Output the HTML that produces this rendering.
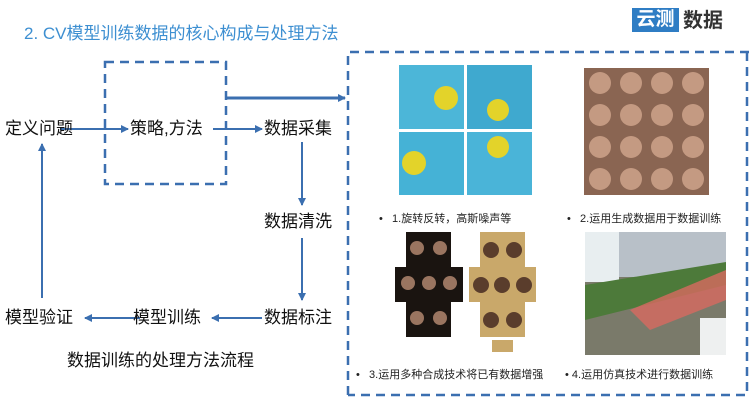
<!DOCTYPE html>
<html><head><meta charset="utf-8"><style>
body{margin:0;width:750px;height:415px;background:#fff;position:relative;overflow:hidden;font-family:"Liberation Sans","Noto Sans CJK SC",sans-serif;}
.t{position:absolute;white-space:nowrap;color:#111;font-size:17px;line-height:20px;}
.s{position:absolute;white-space:nowrap;color:#222;font-size:11px;line-height:14px;}
.b{position:absolute;}
</style></head><body>
<div class="t" style="left:24px;top:24px;color:#3d8fd1;font-size:17px;">2. CV模型训练数据的核心构成与处理方法</div>
<div class="b" style="left:632px;top:8px;width:47px;height:24px;background:#2f7dc4;color:#fff;font-size:19px;line-height:24px;text-align:center;font-weight:bold;">云测</div>
<div class="t" style="left:683px;top:9px;font-size:20px;line-height:24px;color:#333;font-weight:bold;">数据</div>

<svg class="b" style="left:0;top:0" width="750" height="415">
<defs><marker id="a" markerWidth="8" markerHeight="8" refX="7" refY="4" orient="auto" markerUnits="userSpaceOnUse"><path d="M0,0 L8,4 L0,8 Z" fill="#3b6fb0"/></marker></defs>
<g stroke="#3b6fb0" stroke-width="2.5" fill="none" stroke-dasharray="9,6">
<rect x="105" y="62" width="121" height="122"/>
<path d="M348,395 L348,52 L750,52 M747,52 L747,395 L348,395"/>
</g>
<g stroke="#3b6fb0" stroke-width="2" fill="none">
<line x1="60" y1="129" x2="128" y2="129" marker-end="url(#a)"/>
<line x1="213" y1="129" x2="262" y2="129" marker-end="url(#a)"/>
<line x1="226" y1="98" x2="345" y2="98" stroke-width="3" marker-end="url(#a)"/>
<line x1="302" y1="142" x2="302" y2="205" marker-end="url(#a)"/>
<line x1="302" y1="238" x2="302" y2="300" marker-end="url(#a)"/>
<line x1="262" y1="318" x2="212" y2="318" marker-end="url(#a)"/>
<line x1="140" y1="318" x2="85" y2="318" marker-end="url(#a)"/>
<line x1="42" y1="298" x2="42" y2="144" marker-end="url(#a)"/>
</g>
<!-- smileys -->
<rect x="399" y="65" width="65" height="64" fill="#4cb6d8"/><rect x="467" y="65" width="65" height="64" fill="#3fa9cf"/>
<rect x="399" y="132" width="65" height="63" fill="#45b2d6"/><rect x="467" y="132" width="65" height="63" fill="#4ab4d8"/>
<circle cx="446" cy="98" r="12" fill="#e3d32a"/><circle cx="498" cy="110" r="11" fill="#e3d32a"/>
<circle cx="414" cy="163" r="12" fill="#e3d32a"/><circle cx="498" cy="147" r="11" fill="#e3d32a"/>
<!-- faces -->
<rect x="584" y="68" width="125" height="127" fill="#8a6552"/>
<g fill="#c49a82"><circle cx="600" cy="83" r="11"/><circle cx="631" cy="83" r="11"/><circle cx="662" cy="83" r="11"/><circle cx="693" cy="83" r="11"/>
<circle cx="600" cy="115" r="11"/><circle cx="631" cy="115" r="11"/><circle cx="662" cy="115" r="11"/><circle cx="693" cy="115" r="11"/>
<circle cx="600" cy="147" r="11"/><circle cx="631" cy="147" r="11"/><circle cx="662" cy="147" r="11"/><circle cx="693" cy="147" r="11"/>
<circle cx="600" cy="179" r="11"/><circle cx="631" cy="179" r="11"/><circle cx="662" cy="179" r="11"/><circle cx="693" cy="179" r="11"/></g>
<!-- dark faces cross -->
<path d="M406,232 H451 V267 H463 V302 H451 V337 H406 V302 H395 V267 H406 Z" fill="#1a1410"/>
<g fill="#9a7560"><circle cx="417" cy="248" r="7"/><circle cx="440" cy="248" r="7"/><circle cx="408" cy="283" r="7"/><circle cx="429" cy="283" r="7"/><circle cx="450" cy="283" r="7"/><circle cx="417" cy="318" r="7"/><circle cx="440" cy="318" r="7"/></g>
<!-- gold faces -->
<path d="M480,232 H525 V267 H536 V302 H525 V337 H480 V302 H469 V267 H480 Z" fill="#c9a86a"/>
<g fill="#5a3d2c"><circle cx="491" cy="250" r="8"/><circle cx="514" cy="250" r="8"/><circle cx="481" cy="285" r="8"/><circle cx="502" cy="285" r="8"/><circle cx="524" cy="285" r="8"/><circle cx="491" cy="320" r="8"/><circle cx="514" cy="320" r="8"/></g>
<rect x="492" y="340" width="21" height="12" fill="#c9a86a"/>
<!-- sim -->
<rect x="585" y="232" width="141" height="123" fill="#7a7a6a"/>
<rect x="585" y="232" width="141" height="45" fill="#b8c0c8"/>
<rect x="585" y="232" width="34" height="50" fill="#e8eef0"/>
<path d="M585,285 L726,262 L726,285 L585,320 Z" fill="#4d7a3a"/>
<path d="M630,310 L726,270 L726,300 L650,330 Z" fill="#d86a60" opacity="0.8"/>
<rect x="700" y="318" width="26" height="37" fill="#eef0f0"/>
</svg>

<div class="t" style="left:5px;top:119px;">定义问题</div>
<div class="t" style="left:130px;top:119px;">策略,方法</div>
<div class="t" style="left:264px;top:119px;">数据采集</div>
<div class="t" style="left:264px;top:212px;">数据清洗</div>
<div class="t" style="left:264px;top:308px;">数据标注</div>
<div class="t" style="left:133px;top:308px;">模型训练</div>
<div class="t" style="left:5px;top:308px;">模型验证</div>
<div class="t" style="left:67px;top:351px;">数据训练的处理方法流程</div>

<div class="s" style="left:379px;top:212px;">•&nbsp;&nbsp; 1.旋转反转，高斯噪声等</div>
<div class="s" style="left:567px;top:212px;">•&nbsp;&nbsp; 2.运用生成数据用于数据训练</div>
<div class="s" style="left:356px;top:368px;">•&nbsp;&nbsp; 3.运用多种合成技术将已有数据增强</div>
<div class="s" style="left:565px;top:368px;">• 4.运用仿真技术进行数据训练</div>
</body></html>
